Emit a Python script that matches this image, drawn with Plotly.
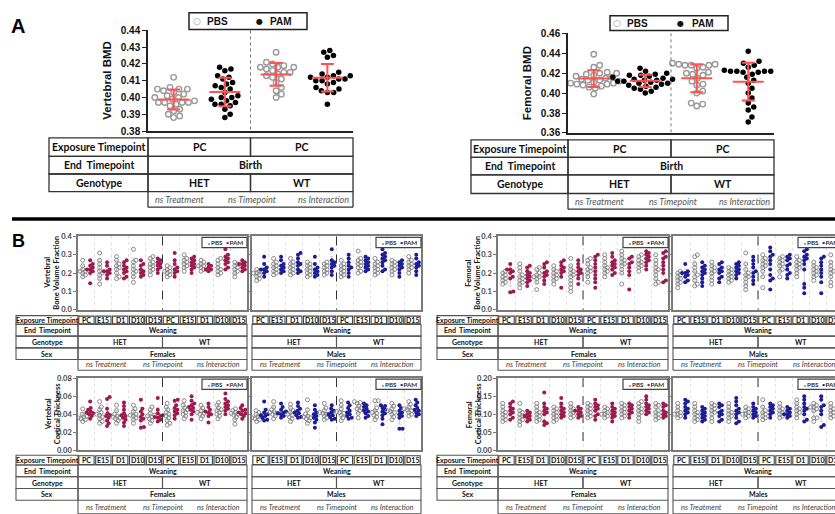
import numpy as np
import plotly.graph_objects as go

W, H = 835, 514

# ---------------- Panel A data (BMD at birth) ----------------
groups_A = ["PBS HET", "PAM HET", "PBS WT", "PAM WT"]
vert_bmd_pbs_het = [0.412, 0.406, 0.405, 0.405, 0.405, 0.404, 0.403, 0.402, 0.401, 0.400, 0.400, 0.399,
                    0.398, 0.397, 0.397, 0.397, 0.397, 0.396, 0.395, 0.393, 0.392, 0.390, 0.389, 0.388]
vert_bmd_pam_het = [0.418, 0.417, 0.416, 0.413, 0.412, 0.411, 0.409, 0.408, 0.407, 0.406, 0.405, 0.403,
                    0.401, 0.400, 0.400, 0.399, 0.398, 0.397, 0.396, 0.396, 0.395, 0.393, 0.390, 0.388]
vert_bmd_pbs_wt = [0.427, 0.421, 0.420, 0.419, 0.418, 0.418, 0.418, 0.417, 0.416, 0.415, 0.415, 0.414,
                   0.413, 0.412, 0.411, 0.409, 0.406, 0.404, 0.402, 0.400]
vert_bmd_pam_wt = [0.428, 0.427, 0.425, 0.424, 0.415, 0.414, 0.413, 0.413, 0.412, 0.412, 0.411, 0.411,
                   0.410, 0.410, 0.409, 0.408, 0.406, 0.405, 0.404, 0.403, 0.403, 0.396]

fem_bmd_pbs_het = [0.439, 0.428, 0.426, 0.421, 0.420, 0.420, 0.419, 0.418, 0.417, 0.416, 0.415, 0.414, 0.413,
                   0.413, 0.412, 0.411, 0.410, 0.410, 0.409, 0.409, 0.408, 0.407, 0.406, 0.405, 0.399]
fem_bmd_pam_het = [0.425, 0.422, 0.420, 0.419, 0.418, 0.418, 0.417, 0.416, 0.415, 0.414, 0.414, 0.413, 0.413,
                   0.412, 0.412, 0.411, 0.410, 0.410, 0.409, 0.408, 0.407, 0.406, 0.405, 0.404, 0.402, 0.400]
fem_bmd_pbs_wt = [0.430, 0.429, 0.429, 0.428, 0.428, 0.428, 0.426, 0.425, 0.421, 0.420, 0.419, 0.418, 0.415,
                  0.412, 0.409, 0.408, 0.402, 0.400, 0.390, 0.389, 0.387]
fem_bmd_pam_wt = [0.442, 0.432, 0.430, 0.428, 0.426, 0.423, 0.422, 0.422, 0.422, 0.422, 0.421, 0.421, 0.419,
                  0.416, 0.413, 0.410, 0.405, 0.400, 0.395, 0.390, 0.386, 0.383, 0.376, 0.371]

# ---------------- Panel B data (weaning) ----------------
timepoints = ["PC", "E15", "D1", "D10", "D15", "PC", "E15", "D1", "D10", "D15"]

vbvf_f_pbs = [[0.27, 0.24, 0.22, 0.21, 0.21, 0.20, 0.19, 0.18],
              [0.31, 0.27, 0.25, 0.23, 0.21, 0.20, 0.19, 0.17, 0.14],
              [0.29, 0.27, 0.25, 0.24, 0.23, 0.22, 0.20, 0.18, 0.17],
              [0.33, 0.27, 0.26, 0.24, 0.22, 0.21, 0.20, 0.18, 0.15],
              [0.29, 0.28, 0.26, 0.25, 0.24, 0.23, 0.22, 0.21, 0.19],
              [0.24, 0.23, 0.22, 0.21, 0.21, 0.20, 0.19, 0.18],
              [0.30, 0.28, 0.27, 0.26, 0.25, 0.24, 0.23, 0.21],
              [0.27, 0.26, 0.25, 0.24, 0.24, 0.23, 0.22, 0.21],
              [0.28, 0.27, 0.25, 0.23, 0.22, 0.21, 0.20, 0.19],
              [0.26, 0.25, 0.24, 0.23, 0.22, 0.21, 0.20, 0.18]]
vbvf_f_pam = [[0.27, 0.25, 0.24, 0.23, 0.22, 0.22, 0.21, 0.20, 0.145],
              [0.26, 0.24, 0.22, 0.21, 0.21, 0.20, 0.19, 0.17],
              [0.27, 0.26, 0.24, 0.23, 0.22, 0.21, 0.20, 0.18, 0.17],
              [0.27, 0.25, 0.24, 0.22, 0.21, 0.20, 0.19, 0.18],
              [0.28, 0.27, 0.26, 0.25, 0.24, 0.23, 0.22, 0.20],
              [0.31, 0.27, 0.25, 0.23, 0.22, 0.21, 0.20, 0.18],
              [0.29, 0.28, 0.27, 0.26, 0.25, 0.24, 0.23, 0.22, 0.20],
              [0.25, 0.24, 0.23, 0.22, 0.22, 0.21],
              [0.33, 0.30, 0.29, 0.28, 0.27, 0.26, 0.25, 0.23, 0.22],
              [0.27, 0.26, 0.25, 0.25, 0.24, 0.23, 0.22, 0.21]]

vbvf_m_pbs = [[0.22, 0.21, 0.21, 0.20, 0.20, 0.19, 0.18, 0.17, 0.16],
              [0.28, 0.26, 0.25, 0.24, 0.23, 0.22, 0.21, 0.20, 0.19],
              [0.28, 0.26, 0.25, 0.24, 0.23, 0.22, 0.21, 0.20, 0.19],
              [0.26, 0.25, 0.24, 0.23, 0.22, 0.21, 0.20, 0.19, 0.18],
              [0.26, 0.25, 0.24, 0.23, 0.22, 0.21, 0.20, 0.19],
              [0.27, 0.25, 0.24, 0.23, 0.22, 0.21, 0.20, 0.19, 0.18],
              [0.32, 0.28, 0.27, 0.26, 0.25, 0.24, 0.23, 0.21, 0.20],
              [0.28, 0.26, 0.25, 0.24, 0.23, 0.22, 0.21, 0.20, 0.19],
              [0.27, 0.26, 0.25, 0.24, 0.23, 0.22, 0.21, 0.19],
              [0.29, 0.27, 0.26, 0.25, 0.24, 0.23, 0.22, 0.20]]
vbvf_m_pam = [[0.29, 0.25, 0.23, 0.22, 0.22, 0.21, 0.20, 0.18],
              [0.29, 0.27, 0.25, 0.24, 0.23, 0.22, 0.21, 0.20],
              [0.31, 0.30, 0.28, 0.26, 0.25, 0.24, 0.22, 0.21, 0.20],
              [0.29, 0.25, 0.23, 0.22, 0.21, 0.20, 0.19, 0.18],
              [0.33, 0.27, 0.26, 0.25, 0.24, 0.23, 0.21, 0.19],
              [0.30, 0.28, 0.26, 0.24, 0.23, 0.22, 0.20, 0.18],
              [0.29, 0.28, 0.27, 0.26, 0.25, 0.24, 0.23, 0.22, 0.21],
              [0.33, 0.31, 0.30, 0.29, 0.28, 0.27, 0.26, 0.24, 0.22, 0.21],
              [0.27, 0.26, 0.25, 0.24, 0.23, 0.22, 0.20, 0.18],
              [0.30, 0.28, 0.26, 0.25, 0.24, 0.23, 0.21, 0.19]]

fbvf_f_pbs = [[0.21, 0.20, 0.19, 0.18, 0.17, 0.16, 0.15, 0.14],
              [0.25, 0.23, 0.21, 0.19, 0.18, 0.17, 0.16, 0.15, 0.14, 0.12],
              [0.23, 0.22, 0.20, 0.19, 0.18, 0.18, 0.17, 0.15, 0.11],
              [0.24, 0.22, 0.21, 0.20, 0.19, 0.18, 0.17, 0.16, 0.14],
              [0.28, 0.24, 0.22, 0.21, 0.20, 0.19, 0.18, 0.16, 0.14, 0.12, 0.10],
              [0.28, 0.27, 0.25, 0.23, 0.22, 0.21, 0.20, 0.18, 0.15],
              [0.30, 0.28, 0.26, 0.24, 0.23, 0.22, 0.21, 0.20, 0.18],
              [0.32, 0.30, 0.28, 0.27, 0.26, 0.25, 0.24, 0.22, 0.20, 0.14],
              [0.30, 0.29, 0.27, 0.26, 0.25, 0.24, 0.23, 0.21],
              [0.30, 0.27, 0.25, 0.23, 0.22, 0.21, 0.19, 0.17, 0.15, 0.14]]
fbvf_f_pam = [[0.25, 0.22, 0.22, 0.21, 0.20, 0.18, 0.17, 0.10, 0.095],
              [0.24, 0.23, 0.21, 0.20, 0.19, 0.18, 0.17, 0.16, 0.15, 0.13],
              [0.26, 0.25, 0.23, 0.21, 0.20, 0.19, 0.18, 0.16, 0.14],
              [0.27, 0.26, 0.24, 0.23, 0.22, 0.21, 0.20, 0.18, 0.12],
              [0.27, 0.25, 0.23, 0.22, 0.21, 0.20, 0.19, 0.17, 0.14],
              [0.30, 0.29, 0.27, 0.25, 0.23, 0.21, 0.19, 0.17, 0.15, 0.12],
              [0.31, 0.29, 0.27, 0.26, 0.25, 0.24, 0.23, 0.22, 0.20, 0.19],
              [0.29, 0.28, 0.26, 0.25, 0.23, 0.21, 0.19, 0.11],
              [0.32, 0.31, 0.30, 0.29, 0.28, 0.27, 0.26, 0.24, 0.22],
              [0.32, 0.31, 0.29, 0.28, 0.26, 0.24, 0.22, 0.20, 0.16, 0.15]]

fbvf_m_pbs = [[0.21, 0.20, 0.19, 0.18, 0.17, 0.16, 0.15, 0.14, 0.12],
              [0.30, 0.29, 0.25, 0.23, 0.21, 0.19, 0.18, 0.16, 0.14, 0.13],
              [0.26, 0.24, 0.23, 0.22, 0.21, 0.20, 0.18, 0.16, 0.14],
              [0.23, 0.22, 0.21, 0.20, 0.19, 0.18, 0.17, 0.16, 0.15],
              [0.31, 0.25, 0.22, 0.20, 0.19, 0.18, 0.17, 0.15, 0.13, 0.11],
              [0.30, 0.28, 0.27, 0.26, 0.25, 0.24, 0.23, 0.21, 0.18, 0.12],
              [0.29, 0.28, 0.27, 0.26, 0.25, 0.24, 0.22, 0.21, 0.18],
              [0.29, 0.27, 0.26, 0.25, 0.24, 0.23, 0.22, 0.20, 0.18],
              [0.26, 0.24, 0.23, 0.22, 0.21, 0.20, 0.19, 0.18, 0.16],
              [0.30, 0.26, 0.24, 0.22, 0.21, 0.20, 0.18, 0.15, 0.13]]
fbvf_m_pam = [[0.25, 0.21, 0.20, 0.20, 0.19, 0.18, 0.16, 0.15],
              [0.26, 0.24, 0.23, 0.22, 0.21, 0.20, 0.19, 0.17, 0.15, 0.13],
              [0.26, 0.25, 0.23, 0.22, 0.21, 0.20, 0.18, 0.17, 0.15],
              [0.26, 0.25, 0.24, 0.23, 0.22, 0.21, 0.20, 0.19, 0.17],
              [0.29, 0.27, 0.25, 0.23, 0.21, 0.20, 0.18, 0.16, 0.14],
              [0.34, 0.32, 0.30, 0.29, 0.27, 0.25, 0.22, 0.19, 0.17, 0.16, 0.11],
              [0.30, 0.29, 0.28, 0.27, 0.25, 0.24, 0.22, 0.20, 0.19, 0.17],
              [0.33, 0.32, 0.30, 0.29, 0.28, 0.27, 0.25, 0.22, 0.14, 0.12, 0.09],
              [0.29, 0.28, 0.26, 0.24, 0.22, 0.20, 0.18, 0.15, 0.09],
              [0.30, 0.28, 0.26, 0.24, 0.22, 0.20, 0.18, 0.16]]

vct_f_pbs = [[0.046, 0.040, 0.038, 0.037, 0.036, 0.035, 0.034, 0.032],
             [0.054, 0.048, 0.045, 0.042, 0.040, 0.039, 0.037, 0.035, 0.032, 0.030],
             [0.050, 0.044, 0.040, 0.038, 0.037, 0.036, 0.035, 0.033, 0.030],
             [0.050, 0.046, 0.043, 0.040, 0.039, 0.038, 0.036, 0.034, 0.030],
             [0.048, 0.045, 0.041, 0.039, 0.038, 0.037, 0.035, 0.033, 0.030],
             [0.052, 0.048, 0.045, 0.042, 0.040, 0.038, 0.036, 0.033, 0.030, 0.028],
             [0.055, 0.050, 0.047, 0.045, 0.044, 0.042, 0.040, 0.038, 0.035],
             [0.050, 0.047, 0.044, 0.042, 0.041, 0.040, 0.038, 0.035],
             [0.053, 0.050, 0.047, 0.045, 0.044, 0.042, 0.040, 0.038, 0.035],
             [0.046, 0.044, 0.042, 0.041, 0.040, 0.039, 0.037, 0.034, 0.029]]
vct_f_pam = [[0.054, 0.047, 0.045, 0.043, 0.042, 0.041, 0.040, 0.038, 0.035],
             [0.059, 0.057, 0.046, 0.041, 0.039, 0.038, 0.036, 0.033, 0.030, 0.027],
             [0.053, 0.049, 0.045, 0.041, 0.039, 0.038, 0.036, 0.034, 0.031, 0.027],
             [0.056, 0.046, 0.043, 0.040, 0.037, 0.035, 0.033, 0.026, 0.025],
             [0.058, 0.045, 0.041, 0.039, 0.038, 0.037, 0.036, 0.034, 0.032],
             [0.056, 0.055, 0.050, 0.047, 0.045, 0.043, 0.041, 0.039, 0.035],
             [0.060, 0.055, 0.052, 0.050, 0.048, 0.047, 0.045, 0.043, 0.040, 0.034],
             [0.052, 0.048, 0.045, 0.043, 0.042, 0.040, 0.038, 0.031],
             [0.063, 0.057, 0.054, 0.052, 0.050, 0.048, 0.046, 0.044, 0.040],
             [0.050, 0.047, 0.045, 0.044, 0.042, 0.041, 0.040, 0.038, 0.035]]

vct_m_pbs = [[0.044, 0.042, 0.040, 0.038, 0.037, 0.036, 0.035, 0.034, 0.032],
             [0.054, 0.048, 0.045, 0.043, 0.042, 0.041, 0.040, 0.038, 0.035],
             [0.051, 0.047, 0.044, 0.042, 0.040, 0.039, 0.037, 0.035, 0.032],
             [0.056, 0.045, 0.040, 0.038, 0.037, 0.036, 0.035, 0.033, 0.030],
             [0.052, 0.047, 0.044, 0.042, 0.041, 0.040, 0.038, 0.036, 0.034],
             [0.055, 0.050, 0.046, 0.043, 0.042, 0.041, 0.039, 0.036, 0.033],
             [0.054, 0.053, 0.052, 0.049, 0.047, 0.046, 0.044, 0.041, 0.036],
             [0.055, 0.055, 0.047, 0.044, 0.042, 0.041, 0.039, 0.037, 0.034],
             [0.052, 0.049, 0.046, 0.044, 0.043, 0.042, 0.040, 0.037, 0.034],
             [0.054, 0.051, 0.048, 0.046, 0.045, 0.044, 0.042, 0.040, 0.038]]
vct_m_pam = [[0.054, 0.045, 0.042, 0.040, 0.039, 0.038, 0.036, 0.034, 0.033],
             [0.052, 0.048, 0.045, 0.043, 0.042, 0.041, 0.040, 0.038, 0.036],
             [0.053, 0.049, 0.046, 0.044, 0.042, 0.041, 0.039, 0.037, 0.036],
             [0.050, 0.045, 0.042, 0.040, 0.038, 0.036, 0.034, 0.031, 0.025],
             [0.050, 0.046, 0.044, 0.042, 0.040, 0.039, 0.037, 0.035, 0.034],
             [0.053, 0.050, 0.047, 0.044, 0.042, 0.040, 0.038, 0.036, 0.035],
             [0.052, 0.050, 0.048, 0.046, 0.044, 0.043, 0.041, 0.038, 0.036],
             [0.050, 0.049, 0.047, 0.045, 0.043, 0.041, 0.039, 0.035, 0.029],
             [0.050, 0.047, 0.044, 0.042, 0.040, 0.038, 0.036, 0.024, 0.024],
             [0.056, 0.053, 0.050, 0.047, 0.045, 0.044, 0.042, 0.040, 0.038]]

fct_f_pbs = [[0.13, 0.12, 0.11, 0.105, 0.10, 0.095, 0.09, 0.085, 0.08],
             [0.13, 0.11, 0.105, 0.10, 0.095, 0.09, 0.085, 0.08, 0.07],
             [0.13, 0.12, 0.11, 0.105, 0.10, 0.095, 0.09, 0.085, 0.08],
             [0.12, 0.115, 0.11, 0.105, 0.10, 0.095, 0.09, 0.085, 0.08],
             [0.13, 0.12, 0.115, 0.11, 0.105, 0.10, 0.095, 0.09],
             [0.13, 0.125, 0.12, 0.115, 0.11, 0.105, 0.10, 0.095, 0.09],
             [0.12, 0.115, 0.11, 0.105, 0.10, 0.10, 0.095, 0.09],
             [0.13, 0.125, 0.12, 0.115, 0.11, 0.105, 0.10, 0.095, 0.09],
             [0.135, 0.13, 0.12, 0.115, 0.11, 0.105, 0.10, 0.09, 0.08],
             [0.13, 0.125, 0.12, 0.11, 0.105, 0.10, 0.095, 0.09, 0.085]]
fct_f_pam = [[0.135, 0.13, 0.12, 0.115, 0.11, 0.105, 0.10, 0.09, 0.085],
             [0.11, 0.105, 0.10, 0.095, 0.095, 0.09, 0.085, 0.08],
             [0.16, 0.13, 0.12, 0.115, 0.11, 0.105, 0.10, 0.08, 0.075, 0.07],
             [0.145, 0.13, 0.12, 0.115, 0.11, 0.105, 0.10, 0.095, 0.09],
             [0.12, 0.115, 0.11, 0.11, 0.105, 0.10, 0.095, 0.09],
             [0.14, 0.13, 0.125, 0.12, 0.115, 0.11, 0.10, 0.095, 0.085],
             [0.13, 0.12, 0.115, 0.11, 0.105, 0.10, 0.095, 0.09, 0.08],
             [0.13, 0.125, 0.12, 0.115, 0.11, 0.105, 0.10, 0.09],
             [0.15, 0.14, 0.13, 0.125, 0.12, 0.115, 0.11, 0.105, 0.10],
             [0.13, 0.125, 0.12, 0.11, 0.105, 0.10, 0.095, 0.09]]

fct_m_pbs = [[0.13, 0.12, 0.11, 0.105, 0.10, 0.10, 0.095, 0.09],
             [0.13, 0.12, 0.11, 0.105, 0.10, 0.095, 0.09, 0.085, 0.08],
             [0.13, 0.125, 0.12, 0.115, 0.11, 0.105, 0.10, 0.09, 0.08],
             [0.13, 0.12, 0.11, 0.105, 0.10, 0.095, 0.09, 0.08],
             [0.12, 0.115, 0.11, 0.105, 0.10, 0.10, 0.095, 0.09],
             [0.14, 0.12, 0.11, 0.105, 0.10, 0.095, 0.09, 0.085],
             [0.13, 0.12, 0.115, 0.11, 0.105, 0.10, 0.095, 0.09],
             [0.14, 0.13, 0.12, 0.115, 0.11, 0.105, 0.10, 0.09],
             [0.13, 0.125, 0.12, 0.12, 0.115, 0.11, 0.09, 0.09, 0.08],
             [0.13, 0.12, 0.115, 0.11, 0.105, 0.10, 0.095, 0.09]]
fct_m_pam = [[0.14, 0.135, 0.13, 0.12, 0.115, 0.11, 0.105, 0.10, 0.09],
             [0.12, 0.115, 0.11, 0.105, 0.10, 0.095, 0.09, 0.085, 0.08],
             [0.13, 0.125, 0.12, 0.11, 0.105, 0.10, 0.095, 0.085, 0.08],
             [0.145, 0.135, 0.125, 0.115, 0.11, 0.105, 0.10, 0.09, 0.08, 0.075],
             [0.13, 0.12, 0.115, 0.11, 0.105, 0.10, 0.095, 0.09],
             [0.13, 0.125, 0.12, 0.115, 0.11, 0.105, 0.10, 0.09],
             [0.12, 0.115, 0.11, 0.105, 0.10, 0.10, 0.095, 0.09],
             [0.15, 0.14, 0.13, 0.12, 0.115, 0.11, 0.10, 0.085, 0.08],
             [0.15, 0.14, 0.125, 0.12, 0.11, 0.10, 0.07, 0.065],
             [0.13, 0.12, 0.11, 0.105, 0.10, 0.095, 0.09]]

# ---------------- helpers ----------------
def X(px):
    return px / W


def Y(py):
    return 1 - py / H


def swarm(vals_px, diam, cap=None):
    vals_px = np.asarray(vals_px, float)
    order = np.argsort(vals_px)
    xs = np.zeros(len(vals_px))
    placed = []
    for i in order:
        y = vals_px[i]
        cands = [0.0]
        for px, py in placed:
            dy = abs(y - py)
            if dy < diam:
                dx = np.sqrt(diam ** 2 - dy ** 2)
                cands += [px + dx, px - dx]
        cands.sort(key=lambda c: (round(abs(c), 6), -c))
        for c in cands:
            if all((c - px) ** 2 + (y - py) ** 2 >= diam ** 2 - 1e-6 for px, py in placed):
                xs[i] = c
                break
        placed.append((xs[i], y))
    if cap is not None:
        xs = np.clip(xs, -cap, cap)
    return xs


fig = go.Figure()
shapes = []
annots = []
layout_axes = {}

TAB_FONT = "Lato"
AX_FONT = "Liberation Sans"


def line(x0, y0, x1, y1, w=1.2, c="#333", dash=None):
    d = dict(color=c, width=w)
    if dash:
        d["dash"] = dash
    shapes.append(dict(type="line", xref="paper", yref="paper", x0=X(x0), y0=Y(y0),
                       x1=X(x1), y1=Y(y1), line=d))


def rect(x0, y0, x1, y1, w=1.2, c="#333"):
    shapes.append(dict(type="rect", xref="paper", yref="paper", x0=X(x0), y0=Y(y1),
                       x1=X(x1), y1=Y(y0), line=dict(color=c, width=w)))


def text(x, y, s, size, color="#111", family=TAB_FONT, xanchor="center", angle=0):
    annots.append(dict(x=X(x), y=Y(y), xref="paper", yref="paper", text=s, showarrow=False,
                       xanchor=xanchor, yanchor="middle", textangle=angle,
                       font=dict(size=size, color=color, family=family)))


# ---------------- Panel A ----------------
panelsA = [
    dict(n=1, box=(148, 25, 353, 128), yr=(0.38, 0.44), dtick=0.01, title="Vertebral BMD",
         data=[vert_bmd_pbs_het, vert_bmd_pam_het, vert_bmd_pbs_wt, vert_bmd_pam_wt]),
    dict(n=2, box=(568, 28, 774, 130), yr=(0.36, 0.46), dtick=0.02, title="Femoral BMD",
         data=[fem_bmd_pbs_het, fem_bmd_pam_het, fem_bmd_pbs_wt, fem_bmd_pam_wt]),
]
for p in panelsA:
    n = p["n"]
    x0, y0, x1, y1 = p["box"]
    xs_ppu = (x1 - x0) / 4.0
    ys_ppu = (y1 - y0) / (p["yr"][1] - p["yr"][0])
    xa, ya = ("x" if n == 1 else "x%d" % n), ("y" if n == 1 else "y%d" % n)
    for gi, vals in enumerate(p["data"]):
        c = gi + 0.5
        off = swarm(np.array(vals) * ys_ppu, 6.3) / xs_ppu
        is_pbs = gi % 2 == 0
        fig.add_trace(go.Scatter(
            x=c + off, y=vals, mode="markers", xaxis=xa, yaxis=ya, showlegend=False,
            marker=dict(symbol="circle-open" if is_pbs else "circle", size=5.5,
                        color="#9a9a9a" if is_pbs else "#000000",
                        line=dict(width=1.4 if is_pbs else 0))))
    for gi, vals in enumerate(p["data"]):
        c = gi + 0.5
        m, s = float(np.mean(vals)), float(np.std(vals, ddof=1))
        hw, cw = 15.5 / xs_ppu, 6.5 / xs_ppu
        fig.add_trace(go.Scatter(
            x=[c - hw, c + hw, None, c, c, None, c - cw, c + cw, None, c - cw, c + cw],
            y=[m, m, None, m - s, m + s, None, m + s, m + s, None, m - s, m - s],
            mode="lines", xaxis=xa, yaxis=ya, showlegend=False,
            line=dict(color="#ff5252", width=2)))
    key = "" if n == 1 else str(n)
    layout_axes["xaxis" + key] = dict(domain=[X(x0), X(x1)], range=[0, 4], anchor=ya,
                                      showgrid=False, zeroline=False, showticklabels=False,
                                      showline=True, linecolor="#222", linewidth=1.5, ticks="")
    layout_axes["yaxis" + key] = dict(domain=[Y(y1), Y(y0)], range=list(p["yr"]), anchor=xa,
                                      dtick=p["dtick"], tickformat=".2f", showgrid=False,
                                      zeroline=False, showline=True, linecolor="#222",
                                      linewidth=1.5, ticks="outside", ticklen=4, tickwidth=1.3,
                                      tickcolor="#222",
                                      tickfont=dict(family=AX_FONT, size=10, color="#111",
                                                    weight="bold"))
    line((x0 + x1) / 2, y0, (x0 + x1) / 2, y1, w=1, c="#777", dash="dot")
    text(x0 - 41, (y0 + y1) / 2, "<b>%s</b>" % p["title"], 11.5, family=AX_FONT, angle=-90)

# A legends
rect(189, 7, 307, 24, w=1.5, c="#222")
text(197, 15.5, '<span style="color:#9a9a9a">○</span>', 9, family="DejaVu Sans")
text(217, 15.5, "<b>PBS</b>", 10, family=AX_FONT)
text(259, 15.5, "●", 8, family="DejaVu Sans")
text(280, 15.5, "<b>PAM</b>", 10, family=AX_FONT)
rect(610, 10, 728, 25, w=1.5, c="#222")
text(617, 17.5, '<span style="color:#9a9a9a">○</span>', 9, family="DejaVu Sans")
text(637, 17.5, "<b>PBS</b>", 10, family=AX_FONT)
text(680, 17.5, "●", 8, family="DejaVu Sans")
text(702, 17.5, "<b>PAM</b>", 10, family=AX_FONT)


# A tables
def table_A(lx, cx0, cx1, rows, sb):
    mid = (cx0 + cx1) / 2
    r0, r1, r2, r3 = rows
    for (ya, yb) in [(r0, r1), (r1, r2), (r2, r3)]:
        rect(lx, ya, cx0, yb, w=1.3)
    rect(cx0, r0, mid, r1, w=1.3)
    rect(mid, r0, cx1, r1, w=1.3)
    rect(cx0, r1, cx1, r2, w=1.3)
    rect(cx0, r2, mid, r3, w=1.3)
    rect(mid, r2, cx1, r3, w=1.3)
    line(cx0, r3, cx0, sb, w=1.3)
    line(cx1, r3, cx1, sb, w=1.3)
    line(cx0, sb, cx1, sb, w=1.3)
    lc = (lx + cx0) / 2
    fs = 10.5
    text(lc, (r0 + r1) / 2, "<b>Exposure Timepoint</b>", fs)
    text(lc, (r1 + r2) / 2, "<b>End  Timepoint</b>", fs)
    text(lc, (r2 + r3) / 2, "<b>Genotype</b>", fs)
    text((cx0 + mid) / 2, (r0 + r1) / 2, "<b>PC</b>", fs)
    text((mid + cx1) / 2, (r0 + r1) / 2, "<b>PC</b>", fs)
    text(mid, (r1 + r2) / 2, "<b>Birth</b>", fs)
    text((cx0 + mid) / 2, (r2 + r3) / 2, "<b>HET</b>", fs)
    text((mid + cx1) / 2, (r2 + r3) / 2, "<b>WT</b>", fs)
    sy = (r3 + sb) / 2
    wdt = cx1 - cx0
    text(cx0 + 0.155 * wdt, sy, "<i>ns Treatment</i>", 9, color="#555")
    text(cx0 + 0.51 * wdt, sy, "<i>ns Timepoint</i>", 9, color="#555")
    text(cx0 + 0.855 * wdt, sy, "<i>ns Interaction</i>", 9, color="#555")


table_A(49, 148, 353, (135, 154, 172, 190), 206)
table_A(471, 568, 774, (137, 155, 173, 192), 208)

# ---------------- Panel B ----------------
F_COL = "#9c1b4d"
M_COL = "#1c1c94"
panelsB = [
    dict(n=3, box=(78, 236, 247, 311), yr=0.4, dt=0.1, fmt=".1f", pbs=vbvf_f_pbs, pam=vbvf_f_pam, col=F_COL, lab=True),
    dict(n=4, box=(252, 236, 421, 311), yr=0.4, dt=0.1, fmt=".1f", pbs=vbvf_m_pbs, pam=vbvf_m_pam, col=M_COL, lab=False),
    dict(n=5, box=(498, 236, 668, 311), yr=0.4, dt=0.1, fmt=".1f", pbs=fbvf_f_pbs, pam=fbvf_f_pam, col=F_COL, lab=True),
    dict(n=6, box=(673, 236, 843, 311), yr=0.4, dt=0.1, fmt=".1f", pbs=fbvf_m_pbs, pam=fbvf_m_pam, col=M_COL, lab=False),
    dict(n=7, box=(78, 381, 247, 455), yr=0.08, dt=0.02, fmt=".2f", pbs=vct_f_pbs, pam=vct_f_pam, col=F_COL, lab=True),
    dict(n=8, box=(252, 381, 421, 455), yr=0.08, dt=0.02, fmt=".2f", pbs=vct_m_pbs, pam=vct_m_pam, col=M_COL, lab=False),
    dict(n=9, box=(498, 381, 668, 455), yr=0.20, dt=0.05, fmt=".2f", pbs=fct_f_pbs, pam=fct_f_pam, col=F_COL, lab=True),
    dict(n=10, box=(673, 381, 843, 455), yr=0.20, dt=0.05, fmt=".2f", pbs=fct_m_pbs, pam=fct_m_pam, col=M_COL, lab=False),
]
for p in panelsB:
    n = p["n"]
    x0, y0, x1, y1 = p["box"]
    xs_ppu = (x1 - x0) / 10.0
    ys_ppu = (y1 - y0) / p["yr"]
    xa, ya = "x%d" % n, "y%d" % n
    cut = x1 > W
    vx1 = min(x1, W)
    xr1 = -0.5 + (vx1 - x0) / xs_ppu
    for ti in range(10):
        for is_pbs, vals in ((True, p["pbs"][ti]), (False, p["pam"][ti])):
            c = ti - 0.22 if is_pbs else ti + 0.22
            m, s = float(np.mean(vals)), float(np.std(vals, ddof=1))
            hw, cw = 3.2 / xs_ppu, 1.6 / xs_ppu
            fig.add_trace(go.Scatter(
                x=[c - hw, c + hw, None, c, c, None, c - cw, c + cw, None, c - cw, c + cw],
                y=[m, m, None, m - s, m + s, None, m + s, m + s, None, m - s, m - s],
                mode="lines", xaxis=xa, yaxis=ya, showlegend=False,
                line=dict(color="#cfcfcf", width=1)))
    for ti in range(10):
        for is_pbs, vals in ((True, p["pbs"][ti]), (False, p["pam"][ti])):
            c = ti - 0.22 if is_pbs else ti + 0.22
            off = swarm(np.array(vals) * ys_ppu, 3.2, cap=5.0) / xs_ppu
            fig.add_trace(go.Scatter(
                x=c + off, y=vals, mode="markers", xaxis=xa, yaxis=ya, showlegend=False,
                marker=dict(symbol="circle-open" if is_pbs else "circle", size=4,
                            color="#8a8a8a" if is_pbs else p["col"],
                            line=dict(width=1 if is_pbs else 0))))
    layout_axes["xaxis%d" % n] = dict(domain=[X(x0), X(vx1)], range=[-0.5, xr1], anchor=ya,
                                      tickvals=[i + 0.5 for i in range(9)], showticklabels=False,
                                      ticks="", showgrid=True, gridcolor="#e2e2e2", griddash="dot",
                                      gridwidth=1, zeroline=False, showline=True, mirror=True,
                                      linecolor="#7a7a7a", linewidth=1.5)
    layout_axes["yaxis%d" % n] = dict(domain=[Y(y1), Y(y0)], range=[0, p["yr"]], anchor=xa,
                                      dtick=p["dt"], tickformat=p["fmt"], showgrid=False,
                                      zeroline=False, showline=True, mirror=not cut,
                                      linecolor="#7a7a7a", linewidth=1.5, ticks="outside",
                                      ticklen=3, tickcolor="#7a7a7a", showticklabels=p["lab"],
                                      tickfont=dict(family=TAB_FONT, size=7.5, color="#444",
                                                    weight="bold"))
    line(x0 + (x1 - x0) / 2, y0, x0 + (x1 - x0) / 2, y1, w=1, c="#333", dash="dash")
    # legend box
    rect(x1 - 45, y0 + 1, x1, y0 + 11.5, w=1.2, c="#444")
    text(x1 - 22.5, y0 + 6.5,
         '<span style="color:#8a8a8a">∘</span><b>PBS</b>  <span style="color:%s">•</span><b>PAM</b>' % p["col"],
         6.3, color="#333")

# B y titles
text(48, 273, "<b>Vertebral</b>", 7.5, angle=-90)
text(57, 273, "<b>Bone Volume Fraction</b>", 7.5, angle=-90)
text(469, 273, "<b>Femoral</b>", 7.5, angle=-90)
text(478, 273, "<b>Bone Volume Fraction</b>", 7.5, angle=-90)
text(48, 418, "<b>Vertebral</b>", 7.5, angle=-90)
text(57, 418, "<b>Cortical Thickness</b>", 7.5, angle=-90)
text(469, 418, "<b>Femoral</b>", 7.5, angle=-90)
text(478, 418, "<b>Cortical Thickness</b>", 7.5, angle=-90)


def table_B(lx, cx0, cx1, rows, sb, sex):
    r0, r1, r2, r3, r4 = rows
    fs = 7
    if lx is not None:
        for (ya, yb) in [(r0, r1), (r1, r2), (r2, r3), (r3, r4)]:
            rect(lx, ya, cx0, yb, w=1.1, c="#555")
        lc = (lx + cx0) / 2
        text(lc, (r0 + r1) / 2, "<b>Exposure Timepoint</b>", fs)
        text(lc, (r1 + r2) / 2, "<b>End  Timepoint</b>", fs)
        text(lc, (r2 + r3) / 2, "<b>Genotype</b>", fs)
        text(lc, (r3 + r4) / 2, "<b>Sex</b>", fs)
    cw = (cx1 - cx0) / 10
    for i, tp in enumerate(timepoints):
        a = cx0 + i * cw
        rect(a + 0.8, r0 + 0.5, a + cw - 0.8, r1 - 0.5, w=1.1, c="#444")
        text(a + cw / 2, (r0 + r1) / 2, "<b>%s</b>" % tp, fs)
    mid = (cx0 + cx1) / 2
    rect(cx0, r1, cx1, r2, w=1.1, c="#555")
    rect(cx0, r2, mid, r3, w=1.1, c="#555")
    rect(mid, r2, cx1, r3, w=1.1, c="#555")
    rect(cx0, r3, cx1, r4, w=1.1, c="#555")
    text(mid, (r1 + r2) / 2, "<b>Weaning</b>", fs)
    text((cx0 + mid) / 2, (r2 + r3) / 2, "<b>HET</b>", fs)
    text((mid + cx1) / 2, (r2 + r3) / 2, "<b>WT</b>", fs)
    text(mid, (r3 + r4) / 2, "<b>%s</b>" % sex, fs)
    line(cx0, r4, cx0, sb, w=1.1, c="#555")
    line(cx1, r4, cx1, sb, w=1.1, c="#555")
    line(cx0, sb, cx1, sb, w=1.1, c="#555")
    sy = (r4 + sb) / 2
    wdt = cx1 - cx0
    text(cx0 + 0.17 * wdt, sy, "<i>ns Treatment</i>", 7.5, color="#444")
    text(cx0 + 0.50 * wdt, sy, "<i>ns Timepoint</i>", 7.5, color="#444")
    text(cx0 + 0.83 * wdt, sy, "<i>ns Interaction</i>", 7.5, color="#444")


top_rows = (317, 326, 338, 350, 362)
bot_rows = (460, 470, 482, 494, 506)
table_B(16, 78, 247, top_rows, 373, "Females")
table_B(None, 252, 421, top_rows, 373, "Males")
table_B(437, 498, 668, top_rows, 373, "Females")
table_B(None, 673, 843, top_rows, 373, "Males")
table_B(16, 78, 247, bot_rows, 520, "Females")
table_B(None, 252, 421, bot_rows, 520, "Males")
table_B(437, 498, 668, bot_rows, 520, "Females")
table_B(None, 673, 843, bot_rows, 520, "Males")

# separator and panel letters
line(12, 218, 835, 218, w=3.5, c="#000")
text(18, 20, "<b>A</b>", 20, color="#000", family=AX_FONT)
text(18, 241, "<b>B</b>", 18, color="#000", family=AX_FONT)

fig.update_layout(width=W, height=H, margin=dict(l=0, r=0, t=0, b=0),
                  paper_bgcolor="white", plot_bgcolor="white", showlegend=False,
                  shapes=shapes, annotations=annots, **layout_axes)

fig.write_html("out.html", config={"displayModeBar": False},
               post_script="document.body.style.margin='0';")
